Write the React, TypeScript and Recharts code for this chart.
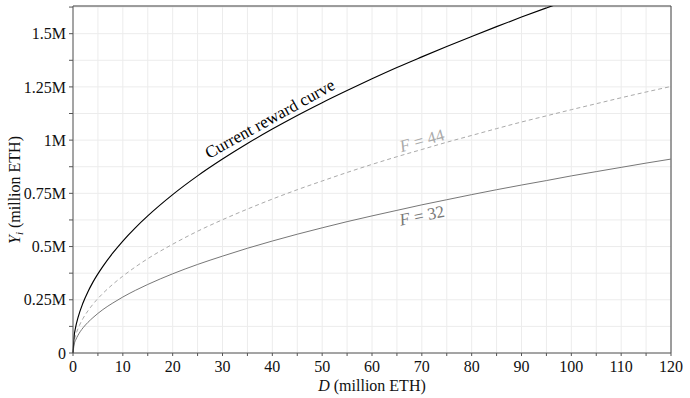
import {
  LineChart, Line, XAxis, YAxis, CartesianGrid, ReferenceLine, ReferenceDot, Label,
} from 'recharts';

// staked ETH, million
const stake = [0, 0.25, 0.5, 1, 2, 3, 4, 6, 8, 10, 12.5, 15, 20, 25, 30, 35, 40, 45, 50, 55, 60, 65, 70, 75, 80, 85, 90, 95, 100, 105, 110, 115, 120];
// issuance, million ETH
const currentCurve = [0, 0.083, 0.118, 0.166, 0.235, 0.288, 0.333, 0.407, 0.47, 0.526, 0.588, 0.644, 0.744, 0.832, 0.911, 0.984, 1.052, 1.116, 1.176, 1.233, 1.288, 1.341, 1.391, 1.44, 1.487, 1.533, 1.578, 1.621, 1.663];
const f44 = [0, 0.057, 0.081, 0.114, 0.162, 0.198, 0.229, 0.28, 0.323, 0.361, 0.404, 0.443, 0.511, 0.572, 0.626, 0.676, 0.723, 0.767, 0.808, 0.848, 0.886, 0.922, 0.956, 0.99, 1.022, 1.054, 1.085, 1.114, 1.143, 1.171, 1.199, 1.226, 1.252];
const f32 = [0, 0.042, 0.059, 0.083, 0.118, 0.144, 0.166, 0.204, 0.235, 0.263, 0.294, 0.322, 0.372, 0.416, 0.455, 0.492, 0.526, 0.558, 0.588, 0.617, 0.644, 0.67, 0.696, 0.72, 0.744, 0.767, 0.789, 0.81, 0.832, 0.852, 0.872, 0.892, 0.911];

const xTicks = [0, 5, 10, 15, 20, 25, 30, 35, 40, 45, 50, 55, 60, 65, 70, 75, 80, 85, 90, 95, 100, 105, 110, 115, 120];
const yTicks = [0, 0.125, 0.25, 0.375, 0.5, 0.625, 0.75, 0.875, 1, 1.125, 1.25, 1.375, 1.5, 1.625];
const yLabels: Record<string, string> = { '0': '0', '0.25': '0.25M', '0.5': '0.5M', '0.75': '0.75M', '1': '1M', '1.25': '1.25M', '1.5': '1.5M' };

const FONT = '"Liberation Serif", "Times New Roman", serif';
const Y_MAX = 1.63;

const data = stake.map((d, i) => ({
  d,
  current: currentCurve[i] ?? null,
  f44: f44[i],
  f32: f32[i],
}));

function curveText(text: string, color: string, angle: number, italicF = false) {
  return (p: any) => (
    <text
      x={p.cx}
      y={p.cy}
      textAnchor="middle"
      dominantBaseline="central"
      transform={`rotate(${angle} ${p.cx} ${p.cy})`}
      fill={color}
      fontFamily={FONT}
      fontSize={17}
    >
      {italicF ? (
        <>
          <tspan fontStyle="italic">F</tspan>
          <tspan> = {text}</tspan>
        </>
      ) : text}
    </text>
  );
}

export default function App() {
  return (
    <div style={{ position: 'absolute', left: 0, top: 0, background: '#fff' }}>
      <LineChart width={690} height={398} data={data} margin={{ top: 6, right: 19, left: 0, bottom: 0 }}>
        <CartesianGrid stroke="#ececec" strokeWidth={1} />
        <XAxis
          dataKey="d"
          type="number"
          domain={[0, 120]}
          ticks={xTicks}
          height={45}
          tickSize={3}
          tickMargin={5}
          tickFormatter={(v: number) => (v % 10 === 0 ? String(v) : '')}
          tick={{ fill: '#111', fontSize: 16, fontFamily: FONT }}
          axisLine={{ stroke: '#555' }}
          tickLine={{ stroke: '#555' }}
        >
          <Label
            content={(p: any) => {
              const vb = p.viewBox;
              return (
                <text x={vb.x + vb.width / 2} y={vb.y + 38} textAnchor="middle" fontFamily={FONT} fontSize={16} fill="#111">
                  <tspan fontStyle="italic">D</tspan>
                  <tspan> (million ETH)</tspan>
                </text>
              );
            }}
          />
        </XAxis>
        <YAxis
          type="number"
          domain={[0, Y_MAX]}
          allowDataOverflow
          ticks={yTicks}
          width={73}
          tickSize={4}
          tickMargin={3}
          tickFormatter={(v: number) => yLabels[String(v)] ?? ''}
          tick={{ fill: '#111', fontSize: 16, fontFamily: FONT }}
          axisLine={{ stroke: '#555' }}
          tickLine={{ stroke: '#555' }}
        >
          <Label
            content={() => (
              <text x={20} y={190} textAnchor="middle" transform="rotate(-90 20 190)" fontFamily={FONT} fontSize={16} fill="#111">
                <tspan fontStyle="italic">Y</tspan>
                <tspan fontStyle="italic" fontSize={11} dy={3}>i</tspan>
                <tspan dy={-3}> (million ETH)</tspan>
              </text>
            )}
          />
        </YAxis>
        <ReferenceLine y={Y_MAX} stroke="#444" ifOverflow="extendDomain" />
        <ReferenceLine x={120} stroke="#444" />
        <Line type="monotone" dataKey="f32" stroke="#777" strokeWidth={1} dot={false} isAnimationActive={false} />
        <Line type="monotone" dataKey="f44" stroke="#aaa" strokeWidth={1} strokeDasharray="4 3" dot={false} isAnimationActive={false} />
        <Line type="monotone" dataKey="current" stroke="#000" strokeWidth={1.15} dot={false} connectNulls={false} isAnimationActive={false} />
        <ReferenceDot x={39.5} y={1.1} r={0} shape={curveText('Current reward curve', '#000', -29)} />
        <ReferenceDot x={70} y={1.0} r={0} shape={curveText('44', '#aaa', -16, true)} />
        <ReferenceDot x={70} y={0.647} r={0} shape={curveText('32', '#777', -12, true)} />
      </LineChart>
    </div>
  );
}
